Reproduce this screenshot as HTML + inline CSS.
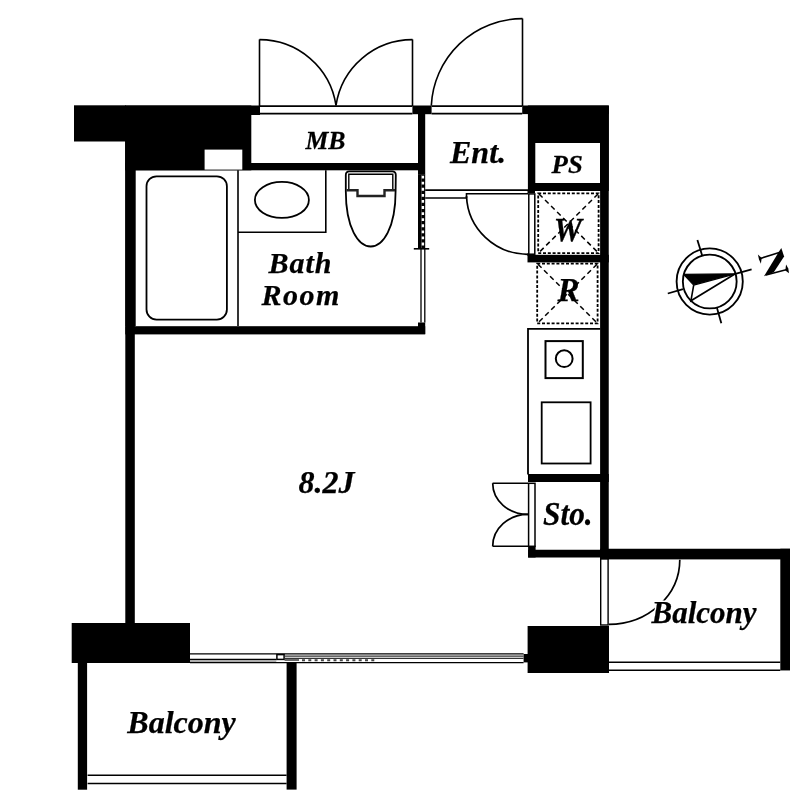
<!DOCTYPE html>
<html><head><meta charset="utf-8">
<style>
html,body{margin:0;padding:0;background:#fff;}
body{width:800px;height:800px;overflow:hidden;}
svg{display:block;will-change:transform;}
text{font-family:"Liberation Serif",serif;font-weight:bold;font-style:italic;fill:#000;stroke:#000;stroke-width:0.25px;}
</style></head>
<body>
<svg width="800" height="800" viewBox="0 0 800 800" xmlns="http://www.w3.org/2000/svg">
<rect x="0" y="0" width="800" height="800" fill="#fff"/>
<g id="walls" fill="#000">
  <!-- top-left block -->
  <rect x="74" y="105.3" width="52" height="36.2"/>
  <rect x="125.3" y="105.5" width="134.7" height="9.5"/>
  <rect x="125.3" y="105.5" width="126" height="64.8"/>
  <!-- left wall -->
  <rect x="125.3" y="141" width="9.5" height="482"/>
  <rect x="125.3" y="141" width="10.4" height="185"/>
  <!-- MB bottom -->
  <rect x="125.5" y="163" width="299.5" height="7.3"/>
  <!-- black square between MB and Ent -->
  <rect x="412.4" y="105.5" width="19.2" height="8.7"/>
  <!-- wall MB/Ent and bath right -->
  <rect x="418" y="106" width="7.2" height="68.8"/>
  <rect x="418" y="174.6" width="3.3" height="74"/>
  <rect x="421.3" y="174.6" width="3.9" height="74"/>
  <rect x="418" y="322.5" width="7.2" height="11.5"/>
  <!-- bath bottom -->
  <rect x="125.3" y="326.2" width="299.9" height="8.2"/>
  <!-- top-right block -->
  <rect x="522.2" y="105.5" width="86.6" height="8.6"/>
  <rect x="527.9" y="105.5" width="80.9" height="85.5"/>
  <rect x="527.5" y="191" width="7.5" height="2"/>
  <!-- right wall -->
  <rect x="600.1" y="106" width="8.65" height="453.4"/>
  <!-- between W and R -->
  <rect x="527.5" y="254.8" width="81.3" height="7.6"/>
  <rect x="527.5" y="253" width="7.5" height="3"/>
  <!-- counter bottom wall -->
  <rect x="528" y="474" width="80.8" height="8"/>
  <!-- Sto bottom + balcony top -->
  <rect x="528.1" y="545.6" width="7.5" height="11.9"/>
  <rect x="528.1" y="549.75" width="80" height="7.75"/>
  <rect x="600" y="548.75" width="190" height="10.65"/>
  <!-- balcony right wall -->
  <rect x="780.3" y="548.75" width="9.7" height="121.7"/>
  <!-- bottom right block -->
  <rect x="527.6" y="626" width="81.4" height="47"/>
  <rect x="523.6" y="654" width="4.5" height="8.4"/>
  <!-- bottom-left block -->
  <rect x="71.7" y="623" width="118.3" height="40"/>
  <!-- lower balcony walls -->
  <rect x="77.8" y="663" width="9.3" height="126.7"/>
  <rect x="286.6" y="663" width="10" height="126.6"/>
</g>
<g id="whites" fill="#fff">
  <rect x="204.6" y="149.6" width="37.7" height="20"/>
  <rect x="535.3" y="143" width="64.7" height="40"/>
  
  
</g>
<g id="lines" fill="none" stroke="#000" stroke-width="1.6">
  <!-- MB double door -->
  <line x1="259.5" y1="39.4" x2="259.5" y2="106"/>
  <line x1="412.5" y1="39.4" x2="412.5" y2="106"/>
  <path d="M259.5,39.6 A77.3,77.3 0 0 1 336,105.4"/>
  <path d="M412.5,39.6 A77.3,77.3 0 0 0 336,105.4"/>
  <line x1="260" y1="106.1" x2="412.4" y2="106.1"/>
  <line x1="260" y1="113.6" x2="412.4" y2="113.6"/>
  <!-- Ent door -->
  <line x1="522.5" y1="18.5" x2="522.5" y2="106"/>
  <path d="M522.5,18.6 A91.3,91.3 0 0 0 431.3,105.6"/>
  <line x1="431.6" y1="106.1" x2="522.2" y2="106.1"/>
  <line x1="431.6" y1="113.6" x2="522.2" y2="113.6"/>
</g>

<g id="fixtures" fill="none" stroke="#000" stroke-width="1.8">
  <!-- bathtub -->
  <rect x="146.5" y="176.3" width="80.4" height="143.3" rx="10" ry="10"/>
  <!-- bath dividers -->
  <line x1="238" y1="170.3" x2="238" y2="326" stroke-width="1.6"/>
  <polyline points="238,232.2 325.8,232.2 325.8,170.3" stroke-width="1.6"/>
  <ellipse cx="281.9" cy="199.9" rx="27" ry="18" stroke-width="1.8"/>
  <!-- toilet -->
  <path d="M345.8,191 L345.8,175 Q345.8,171.4 349.4,171.4 L392.2,171.4 Q395.8,171.4 395.8,175 L395.6,191 C395.6,228 383,246.5 370.7,246.5 C358.4,246.5 345.8,228 345.8,191 Z" stroke-width="1.8"/>
  <path d="M348.8,190.5 L348.8,174.3 L392.8,174.3 L392.8,190.5" stroke-width="1.4"/>
  <path d="M346.5,190.3 L357.5,190.3 L357.5,196 L384.5,196 L384.5,190.3 L395,190.3" stroke-width="2.4" stroke="#222"/>
  <!-- bath right wall lower double line -->
  <line x1="421" y1="249" x2="421" y2="322.6" stroke-width="1.3"/>
  <line x1="424.8" y1="249" x2="424.8" y2="322.6" stroke-width="1.3"/>
  <line x1="413.8" y1="248.8" x2="429.2" y2="248.8" stroke-width="1.6"/>
  <!-- Ent step / door -->
  <line x1="425.2" y1="190.1" x2="528" y2="190.1" stroke-width="1.7"/>
  <line x1="425.2" y1="198" x2="466.5" y2="198" stroke-width="1.5"/>
  <polyline points="466.5,198 466.5,193.7 528,193.7" stroke-width="1.6"/>
  <path d="M466.5,196 A61.5,60.6 0 0 0 528,254.3" stroke-width="1.7"/>
  <rect x="528.8" y="193.9" width="6" height="60.3" stroke-width="1.5" fill="#fff"/>
  <!-- dashed boxes -->
  <g stroke-width="1.8" stroke-dasharray="3 1.8">
    <rect x="538.2" y="193.3" width="60.4" height="59.8"/>
    <rect x="537.2" y="263.6" width="60.4" height="59.8"/>
  </g>
  <g stroke-width="1.5" stroke-dasharray="5 3.5">
    <line x1="539" y1="194" x2="598" y2="252.5"/>
    <line x1="598" y1="194" x2="539" y2="252.5"/>
    <line x1="538" y1="264.3" x2="597" y2="322.8"/>
    <line x1="597" y1="264.3" x2="538" y2="322.8"/>
  </g>
  <!-- kitchen -->
  <polyline points="528,474.5 528,328.8 600.2,328.8" stroke-width="1.8"/>
  <rect x="545.5" y="341.1" width="37.3" height="37" stroke-width="2"/>
  <circle cx="564.2" cy="358.7" r="8.4" stroke-width="2"/>
  <rect x="541.7" y="402.3" width="48.9" height="61.2" stroke-width="1.8"/>
  <!-- Sto doors -->
  <rect x="528.6" y="483.3" width="6.4" height="63" stroke-width="1.5" fill="#fff"/>
  <line x1="492.6" y1="483.3" x2="528" y2="483.3" stroke-width="1.6"/>
  <line x1="492.6" y1="546.3" x2="528" y2="546.3" stroke-width="1.6"/>
  <path d="M492.7,483.3 A35.3,31.1 0 0 0 528,514.4" stroke-width="1.7"/>
  <path d="M492.7,546.3 A35.3,31.9 0 0 1 528,514.4" stroke-width="1.7"/>
  <!-- balcony door -->
  <rect x="600.7" y="559" width="7.4" height="66" stroke-width="1.4" fill="#fff"/>
  <path d="M679.8,559.7 A71,64.7 0 0 1 608.8,624.4" stroke-width="1.7"/>
  <!-- right balcony rail -->
  <line x1="609" y1="662.3" x2="780.3" y2="662.3" stroke-width="1.5"/>
  <line x1="609" y1="670.3" x2="780.3" y2="670.3" stroke-width="1.5"/>
  <!-- lower balcony rail -->
  <line x1="87.6" y1="775.3" x2="286.6" y2="775.3" stroke-width="1.5"/>
  <line x1="87.6" y1="783.5" x2="286.6" y2="783.5" stroke-width="1.5"/>
  <!-- window -->
  <line x1="190" y1="653.9" x2="523.6" y2="653.9" stroke-width="1.4"/>
  <line x1="190" y1="662.6" x2="523.6" y2="662.6" stroke-width="1.4"/>
  <line x1="190" y1="659.5" x2="276.3" y2="659.5" stroke-width="1.4"/>
  <line x1="190" y1="661.2" x2="276.3" y2="661.2" stroke-width="1" stroke="#888"/>
  <rect x="276.9" y="654.6" width="7.2" height="4.8" stroke-width="1.5"/>
  <line x1="284.6" y1="656.2" x2="523.6" y2="656.2" stroke-width="1.3" stroke="#333"/>
  <line x1="284.6" y1="658.3" x2="523.6" y2="658.3" stroke-width="1.3" stroke="#333"/>
  <line x1="284.6" y1="660" x2="299" y2="660" stroke-width="1.6" stroke="#444"/>
  <line x1="302" y1="660.2" x2="377" y2="660.2" stroke-width="2" stroke="#444" stroke-dasharray="3 3.3"/>
</g>
<g id="walldots">
  <line x1="422.9" y1="175.7" x2="422.9" y2="246" stroke="#fff" stroke-width="2.4" stroke-dasharray="2.8 3.28"/>
</g>
<g id="compass" fill="none" stroke="#000" stroke-width="2">
  <circle cx="709.7" cy="281.5" r="33.1" stroke-width="1.85"/>
  <circle cx="709.75" cy="281.55" r="26.9" stroke-width="1.85"/>
  <line x1="697.4" y1="240.1" x2="702.1" y2="255.3" stroke-width="1.8"/>
  <line x1="717" y1="308.1" x2="721.3" y2="323.3" stroke-width="1.8"/>
  <line x1="667.8" y1="293.5" x2="683" y2="289.2" stroke-width="1.8"/>
  <line x1="735.3" y1="273.8" x2="751.6" y2="269.3" stroke-width="1.8"/>
  <polygon points="683.6,274.4 735.3,273.8 693.7,285.1" fill="#000" stroke-width="1.2" stroke-linejoin="round"/>
  <polyline points="693.7,285.1 690.9,300.8 735.3,273.8" stroke-width="1.6"/>
  <!-- N rotated -->
  <line x1="759.5" y1="258.7" x2="780" y2="252.3" stroke-width="1.6"/>
  <polygon points="757.9,254.6 761.7,257.9 760.9,263.8 759.0,259.6" fill="#000" stroke="none"/>
  <polygon points="781.3,248.1 784.1,256.5 773.8,272.2 764,276.3 778.1,253.1" fill="#000" stroke="none"/>
  <line x1="766" y1="275" x2="787" y2="269.6" stroke-width="1.6"/>
  <polygon points="786.1,264.6 788.3,268.6 789.0,273.2 785.3,270.4" fill="#000" stroke="none"/>
</g>
<g id="labels">
  <text x="305.5" y="148.8" font-size="25" transform="translate(305.5 0) scale(1.03 1) translate(-305.5 0)">MB</text>
  <text x="450" y="163" font-size="32">Ent.</text>
  <text x="551.6" y="172.8" font-size="25" transform="translate(551.6 0) scale(1.07 1) translate(-551.6 0)">PS</text>
  <text x="553.8" y="241" font-size="33" transform="translate(553.8 0) scale(0.96 1) translate(-553.8 0)">W</text>
  <text x="557.5" y="300.8" font-size="33">R</text>
  <text x="268.5" y="273.1" font-size="30" letter-spacing="1">Bath</text>
  <text x="261.5" y="304.8" font-size="30" letter-spacing="1.5">Room</text>
  <text x="298.5" y="493" font-size="32">8.2J</text>
  <text x="543" y="525" font-size="33" transform="translate(543 0) scale(0.95 1) translate(-543 0)">Sto.</text>
  <text x="127.3" y="733.3" font-size="32">Balcony</text>
  <text x="651.5" y="622.5" font-size="31" style="stroke:#fff;stroke-width:3px;fill:#fff">Balcony</text>
  <text x="651.5" y="622.5" font-size="31">Balcony</text>
</g>
</svg>
</body></html>
